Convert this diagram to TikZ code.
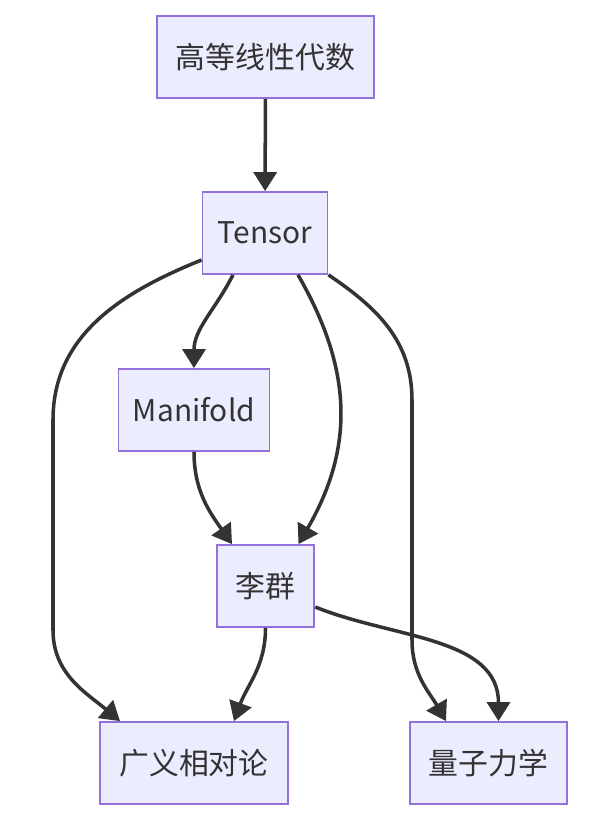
\documentclass[tikz,border=0pt]{standalone}
\usepackage{fontspec}
\setmainfont{Noto Sans CJK SC}
\usetikzlibrary{arrows.meta}
\usetikzlibrary{calc,positioning}
\definecolor{boxfill}{HTML}{ECECFF}
\definecolor{boxline}{HTML}{9370DB}
\definecolor{edgeline}{HTML}{333333}

\begin{document}
\begin{tikzpicture}
    \tikzstyle{topic} = [rectangle, draw=boxline, fill=boxfill, line width=1pt, minimum height=1.64cm, inner xsep=0.38cm, text=edgeline, font=\fontsize{17}{20}\selectfont]
    \tikzstyle{dep} = [draw=edgeline, line width=2pt, -{Triangle[length=0.38cm,width=0.46cm]}]

    \useasboundingbox (0,0) rectangle (12.28,-16.42);

    % Topics .........................
	\node[topic] (alg) at (5.31,-1.14) {高等线性代数};
	\node[topic, inner xsep=0.31cm] (T) at (5.30,-4.66) {Tensor};
	\node[topic, inner xsep=0.29cm] (M) at (3.88,-8.20) {Manifold};
	\node[topic] (L) at (5.31,-11.72) {李群};
	\node[topic] (G) at (3.88,-15.26) {广义相对论};
	\node[topic] (Q) at (9.77,-15.26) {量子力学};

    % Bends of the long edges ........
	\coordinate (gl1) at (1.06,-8.4);
	\coordinate (gl2) at (1.06,-12.6);
	\coordinate (qr1) at (8.24,-8.0);
	\coordinate (qr2) at (8.24,-12.8);

	 \draw[dep] (alg) -- (T);
	 \draw[dep] ([xshift=-0.64cm]T.south) to[out=-117,in=90] (M.north);
	 \draw[dep] ([xshift=0.66cm]T.south) to[out=-60,in=60,looseness=1.05] ([xshift=0.66cm]L.north);
	 \draw[dep] (M.south) to[out=-90,in=125] ([xshift=-0.67cm]L.north);
	 \draw[dep] ([yshift=-0.54cm]T.west) to[out=202,in=90] (gl1) -- (gl2) to[out=-90,in=140] ([xshift=-1.48cm]G.north);
	 \draw[dep] (T.south east) to[out=-34,in=90] (qr1) -- (qr2) to[out=-90,in=120] ([xshift=-0.85cm]Q.north);
	 \draw[dep] (L.south) to[out=-90,in=70] ([xshift=0.8cm]G.north);
	 \draw[dep] ([yshift=-0.42cm]L.east) to[out=-22,in=90] ([xshift=0.2cm]Q.north);

\end{tikzpicture}
\end{document}
